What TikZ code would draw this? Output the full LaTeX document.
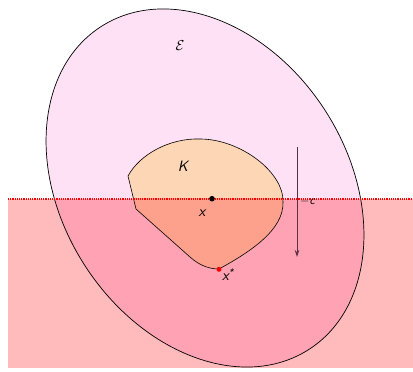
\documentclass[tikz,border=0pt]{standalone}
\usepackage{amsmath}
\usetikzlibrary{arrows.meta}
\definecolor{ellcol}{RGB}{255,225,245}
\definecolor{hscol}{RGB}{255,187,187}
\definecolor{ovcol}{RGB}{255,162,180}
\definecolor{ktop}{RGB}{253,214,182}
\definecolor{kbot}{RGB}{253,160,140}
\definecolor{arrcol}{RGB}{95,45,70}
\tikzset{
  lbl/.style={inner sep=0pt, font=\fontsize{15}{18}\selectfont\sffamily\itshape},
  smalllbl/.style={inner sep=0pt, font=\fontsize{12}{14}\selectfont\sffamily\itshape},
  outline/.style={draw=black, line width=0.7pt},
  edgeline/.style={draw=red, densely dotted, line width=1.2pt},
  dirarrow/.style={draw=arrcol, line width=0.9pt, -{Stealth[length=7pt,width=4.5pt]}}
}
\begin{document}
\begin{tikzpicture}[x=1pt,y=1pt]
\useasboundingbox (0,0) rectangle (413,372);
\def\ellpath{(205,184) ellipse [x radius=192, y radius=143, rotate=-57.2]}
\def\hspath{(8,4) rectangle (413,173)}
\def\kpath{(128,196) -- (136,163) -- (190,115) .. controls (200,106) and (210,103) .. (219,103) .. controls (250,120) and (284,142) .. (283,170) .. controls (284,200) and (240,233) .. (200,233) .. controls (170,234) and (140,218) .. (128,196) -- cycle}
% ellipse fill
\fill[ellcol] \ellpath;
% halfspace
\fill[hscol] \hspath;
\begin{scope}
  \clip \ellpath;
  \fill[ovcol] \hspath;
\end{scope}
% K
\fill[ktop] \kpath;
\begin{scope}
  \clip \hspath;
  \fill[kbot] \kpath;
\end{scope}
% outlines
\draw[outline] \ellpath;
\draw[outline, line width=0.6pt] \kpath;
% halfspace boundary
\coordinate (hl) at (8,173);
\coordinate (hr) at (413,173);
\draw[edgeline] (hl) -- (hr);
% direction arrow
\coordinate (as) at (297,225);
\coordinate (ae) at (297,115);
\draw[dirarrow] (as) -- (ae);
\node[smalllbl, anchor=west] (c) at (300,170) {$-$c};
% points
\fill[black] (212,173.3) circle (2.8) coordinate (x);
\fill[red] (219,102.7) circle (2.5) coordinate (xs);
% labels
\node[lbl] (E) at (180,326) {$\mathcal{E}$};
\node[lbl] (K) at (183,206) {K};
\node[lbl] (xl) at (202,159) {x};
\node[lbl, anchor=south west] (xsl) at (222,91) {x\textsuperscript{\fontsize{9}{10}\selectfont *}};
\end{tikzpicture}
\end{document}
